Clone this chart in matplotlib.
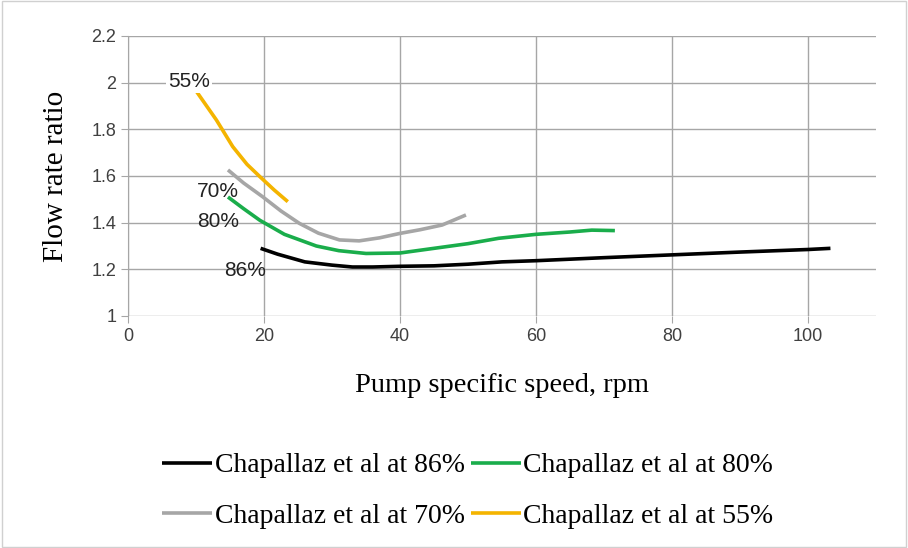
import numpy as np
import matplotlib
matplotlib.use("Agg")
import matplotlib.pyplot as plt
from matplotlib.patches import Rectangle

# Chapallaz et al curves
x86 = [19.5, 22, 26, 30, 33, 36, 40, 45, 50, 55, 60, 70, 80, 90, 100, 103.3]
y86 = [1.29, 1.265, 1.232, 1.218, 1.21, 1.21, 1.213, 1.215, 1.222, 1.232, 1.237, 1.25, 1.262, 1.274, 1.285, 1.29]

x80 = [14.7, 17, 19.4, 23, 27.7, 31, 35, 40, 45, 50, 54.5, 60, 65, 68.2, 71.6]
y80 = [1.51, 1.46, 1.41, 1.35, 1.30, 1.28, 1.268, 1.27, 1.29, 1.31, 1.333, 1.35, 1.36, 1.368, 1.366]

x70 = [14.7, 17, 19.8, 22.5, 25.2, 28, 31.1, 34, 37, 40, 43, 46.2, 49.7]
y70 = [1.626, 1.57, 1.511, 1.45, 1.397, 1.355, 1.326, 1.322, 1.335, 1.354, 1.37, 1.39, 1.433]

x55 = [10.1, 13, 15.4, 17.5, 19.4, 21.5, 23.5]
y55 = [1.961, 1.84, 1.726, 1.65, 1.597, 1.54, 1.49]

series = [
    (x86, y86, "#000000", "Chapallaz et al at 86%"),
    (x80, y80, "#1aad4b", "Chapallaz et al at 80%"),
    (x70, y70, "#a6a6a6", "Chapallaz et al at 70%"),
    (x55, y55, "#f4b400", "Chapallaz et al at 55%"),
]

# inline labels (text, x, y)
labels = [("55%", 9.0, 2.005), ("70%", 13.2, 1.535), ("80%", 13.2, 1.405), ("86%", 17.2, 1.195)]

fig = plt.figure(figsize=(9.08, 5.48), dpi=100)
ax = fig.add_axes([128 / 908, 1 - 316 / 548, 748 / 908, 280 / 548])

handles = []
for xs, ys, c, lab in series:
    h, = ax.plot(xs, ys, color=c, lw=2.6, label=lab, solid_capstyle="butt")
    handles.append(h)

for t, lx, ly in labels:
    ax.text(lx, ly, t, fontsize=15, family="Liberation Sans", color="#222222",
            ha="center", va="center",
            bbox=dict(facecolor="white", edgecolor="none", pad=1.5) if t == "55%" else None)

ax.set_xlim(0, 110)
ax.set_ylim(1, 2.2)
ax.set_xticks(np.arange(0, 101, 20))
ax.set_yticks(np.arange(1, 2.21, 0.2))
ax.set_yticklabels([f"{v:g}" for v in np.arange(1, 2.21, 0.2).round(1)])
ax.grid(True, color="#a6a6a6", lw=1)
ax.set_axisbelow(True)
for s in ["top", "right", "bottom"]:
    ax.spines[s].set_visible(False)
ax.spines["left"].set_color("#a6a6a6")
ax.tick_params(colors="#a6a6a6", length=5, labelcolor="#404040", labelsize=13)
for lab in ax.get_xticklabels() + ax.get_yticklabels():
    lab.set_family("Liberation Sans")

ax.set_xlabel("Pump specific speed, rpm", family="Liberation Serif", fontsize=20.5, labelpad=20)
ax.set_ylabel("Flow rate ratio", family="Liberation Serif", fontsize=21, labelpad=16)

# row-wise order: 86, 80 / 70, 55
order = [0, 2, 1, 3]
fig.legend([handles[i] for i in order], [series[i][3] for i in order],
           loc="center", bbox_to_anchor=(468 / 908, 1 - 491 / 548), ncol=2,
           frameon=False, prop={"family": "Liberation Serif", "size": 20},
           handlelength=1.8, handletextpad=0.1, columnspacing=0.2, labelspacing=0.9)

fig.patches.append(Rectangle((0.002, 0.002), 0.996, 0.996, transform=fig.transFigure,
                             fill=False, edgecolor="#d0d0d0", lw=1))

fig.savefig("out.png", dpi=100)
